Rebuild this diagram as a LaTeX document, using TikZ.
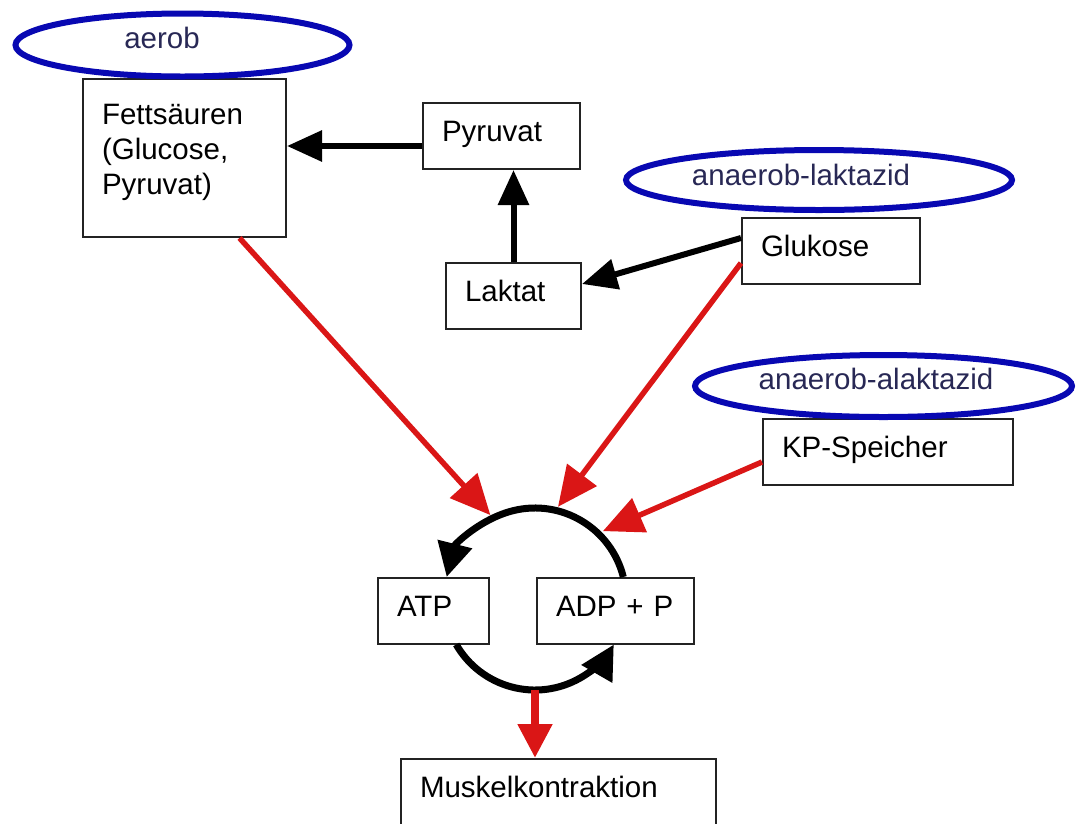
\documentclass[tikz,border=0pt]{standalone}
\usepackage{fontspec}
\setmainfont{Liberation Sans}
\usetikzlibrary{shapes.geometric, arrows.meta, positioning}
\definecolor{ovalblue}{RGB}{8,8,178}
\definecolor{ovaltext}{RGB}{40,40,85}
\definecolor{energyred}{RGB}{218,22,22}
\definecolor{boxline}{RGB}{35,35,35}
\tikzset{
  stagebox/.style={draw=boxline, line width=2pt, anchor=north west, inner xsep=19pt, inner ysep=0pt, align=left, text height=38pt, text depth=28pt},
  zone/.style={ellipse, draw=ovalblue, line width=6pt, inner sep=0pt},
  zonetext/.style={anchor=base, text=ovaltext, inner sep=0pt},
  flow/.style={line width=6pt, -{Triangle[length=35pt,width=30pt]}},
  energy/.style={color=energyred, line width=5.5pt, -{Triangle[length=40pt,width=36pt]}},
  turn/.style={line width=7pt, -{Triangle[length=34pt,width=34pt]}}
}

\begin{document}
\begin{tikzpicture}[x=1pt, y=-1pt, font=\fontsize{29.5}{35}\selectfont]
\useasboundingbox (0,0) rectangle (1077,823);
\node[stagebox, text width=165pt, text height=45pt, text depth=113pt] (fett) at (82,78) {Fettsäuren\\(Glucose,\\Pyruvat)};
\node[stagebox, text width=119pt] (pyr) at (422,102) {Pyruvat};
\node[stagebox, text width=97pt] (lak) at (445,262) {Laktat};
\node[stagebox, text width=140pt] (glu) at (741,217) {Glukose};
\node[stagebox, text width=212pt] (kp) at (762,418) {KP-Speicher};
\node[stagebox, text width=73pt] (atp) at (377,577) {ATP};
\node[stagebox, text width=119pt] (adp) at (536,577) {ADP + P};
\node[stagebox, text width=277pt] (musk) at (400,758) {Muskelkontraktion};

\node[zone, minimum width=334pt, minimum height=63pt] (aerob) at (182.5,45) {};
\node[zonetext] (aerob-t) at (162,48) {aerob};
\node[zone, minimum width=386pt, minimum height=60pt] (lakt) at (819,180) {};
\node[zonetext] (lakt-t) at (801,185) {anaerob-laktazid};
\node[zone, minimum width=377pt, minimum height=62pt] (alakt) at (883.5,386) {};
\node[zonetext] (alakt-t) at (876,389) {anaerob-alaktazid};

\coordinate (pyr-out) at ([yshift=-10pt]pyr.west);
\draw[flow] (pyr-out) -- (pyr-out -| fett.east);
\draw[flow] (lak.north) -- (lak.north |- pyr.south);
\draw[flow] ([yshift=13pt]glu.west) -- ([yshift=12pt]lak.east);

\coordinate (cyc) at (535,599);
\draw[turn] ([shift={(14:91pt)}]cyc) arc[start angle=14, end angle=166, radius=91pt];
\draw[turn] ([shift={(210:91pt)}]cyc) arc[start angle=210, end angle=330, radius=91pt];

\draw[energy] ([xshift=55pt]fett.south) -- ([shift={(118:95pt)}]cyc);
\draw[energy] ([yshift=-12pt]glu.west) -- ([shift={(76:95pt)}]cyc);
\draw[energy] ([yshift=-10pt]kp.west) -- ([shift={(45:96pt)}]cyc);
\draw[energy, line width=8pt, -{Triangle[length=34pt,width=33pt]}] ([shift={(270:91pt)}]cyc) -- (cyc |- musk.north);
\end{tikzpicture}
\end{document}
